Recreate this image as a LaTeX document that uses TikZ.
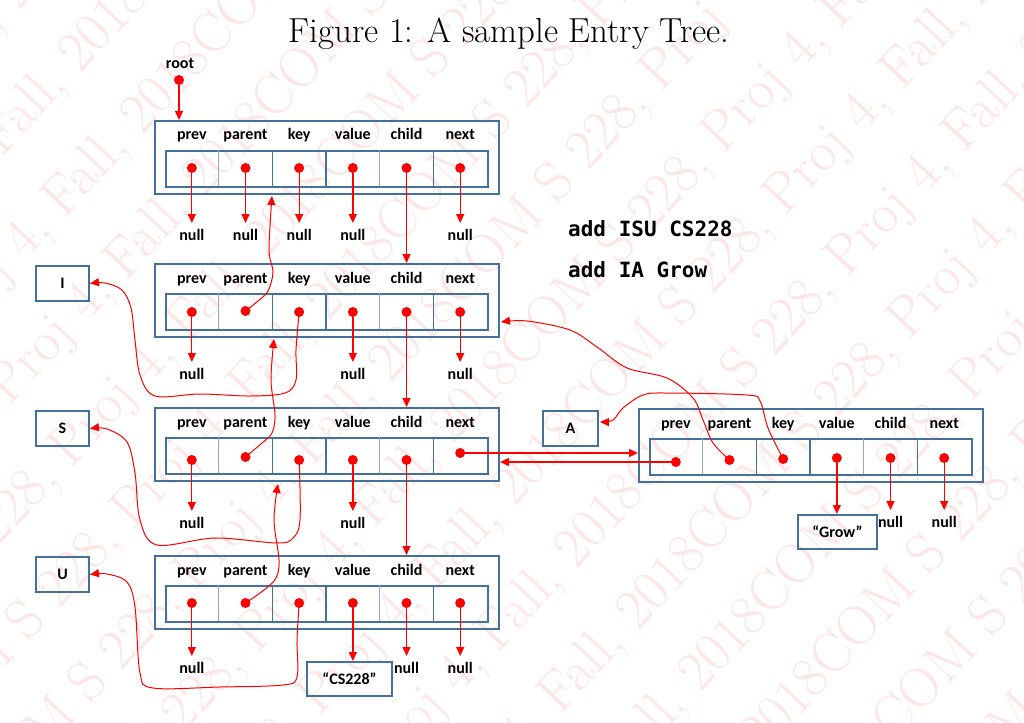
\documentclass[tikz,border=0pt]{standalone}
\usepackage{fontspec}
\newfontfamily\calfont{Carlito}
\newfontfamily\cmdfont{DejaVu Sans Mono}
\usetikzlibrary{arrows.meta}
\definecolor{boxblue}{RGB}{65,113,156}
\definecolor{divlight}{RGB}{140,170,205}
\definecolor{wmred}{RGB}{253,230,230}
\tikzset{
 lab/.style={font=\calfont\bfseries\fontsize{16}{18}\selectfont, inner sep=0pt},
 nul/.style={lab, anchor=north, inner ysep=6pt, inner xsep=1pt},
 outer/.style={draw=boxblue, line width=2pt, minimum width=344pt, minimum height=73pt, inner sep=0pt},
 rowbox/.style={draw=boxblue, line width=2pt, minimum width=322pt, minimum height=36pt, inner sep=0pt},
 sbox/.style={lab, draw=boxblue, line width=2pt, minimum height=35pt},
 dot/.style={circle, fill=red, inner sep=0pt, minimum size=10pt},
 ptr/.style={red, line width=1.3pt, -{Triangle[length=9pt,width=8pt]}},
 curve/.style={red, line width=1pt, -{Triangle[length=9pt,width=8pt]}},
 cmd/.style={font=\cmdfont\bfseries\fontsize{21}{23}\selectfont, anchor=west, inner sep=0pt},
 wm/.style={font=\fontsize{56}{60}\selectfont, text=wmred, inner sep=0pt},
}
\def\wmtext{COM S 228, Proj 4, Fall, 2018}
% entry: name, x0, top, dot offsets
\newcommand\entrybox[4]{%
 \node[outer, anchor=north west] (#1) at (#2,#3) {};
 \node[rowbox, anchor=north west] (#1row) at (#2+11,#3+30) {};
 \foreach \j/\c in {1/divlight,2/boxblue,3/boxblue,4/divlight,5/boxblue}
   \draw[\c, line width=1.6pt] ({#2+11+\j*53.67},#3+30) -- ({#2+11+\j*53.67},#3+66);
 \foreach \t [count=\i] in {prev,parent,key,value,child,next}
   \node[lab, anchor=base] (#1l\i) at ({#2+11+(\i-0.5)*53.67},#3+20) {\t};
 \foreach \o [count=\i] in {#4}
   \node[dot] (#1d\i) at ({#2+11+(\i-0.5)*53.67},#3+\o) {};
}
\begin{document}
\begin{tikzpicture}[x=1pt,y=-1pt]
\useasboundingbox (0,0) rectangle (1024,722);
\fill[white] (0,0) rectangle (1024,722);
\begin{scope}
\clip (0,0) rectangle (1024,722);
\foreach \k in {-10,...,10}
  \node[wm, rotate=47] (wm\k) at ({512+62*\k},{361+62*\k}) {\wmtext\wmtext\wmtext\wmtext};
\end{scope}

% title
\node[font=\fontsize{34.8}{38}\selectfont, anchor=base, inner sep=0pt] (title) at (509,43) {Figure 1: A sample Entry Tree.};

% entries
\entrybox{e1}{154}{120}{48,48,48,48,48,48}
\entrybox{e2}{154}{263}{49,48,49,49,49,49}
\entrybox{e3}{154}{407}{53,50,53,53,53,46}
\entrybox{e4}{154}{555}{48,48,48,48,48,48}
\entrybox{A}{638}{408}{54,52,51,50,50,50}

% side boxes
\node[sbox, minimum width=53pt] (Ibox) at (62.5,283.5) {I};
\node[sbox, minimum width=53pt] (Sbox) at (62.5,428.5) {S};
\node[sbox, minimum width=53pt] (Ubox) at (62.5,574.5) {U};
\node[sbox, minimum width=55pt] (Abox) at (570.5,428) {A};
\node[sbox, minimum width=85pt, minimum height=34pt] (cs) at (349.5,679) {“CS228”};
\node[sbox, minimum width=79pt, minimum height=34pt] (grow) at (837.5,532) {“Grow”};

% commands
\node[cmd] (c1) at (568,229) {add ISU CS228};
\node[cmd] (c2) at (568,270) {add IA Grow};

% root
\node[lab, anchor=base] (rootl) at (180,69) {root};
\node[dot] (rootd) at (179,80) {};
\draw[ptr] (rootd) -- (rootd |- e1.north);

% nulls
\foreach \i in {1,2,3,4,6} {
  \node[nul] (n1\i) at (e1d\i |- 0,223) {null};
  \draw[ptr] (e1d\i) -- (n1\i.north);
}
\foreach \i in {1,4,6} {
  \node[nul] (n2\i) at (e2d\i |- 0,362) {null};
  \draw[ptr] (e2d\i) -- (n2\i.north);
}
\foreach \i in {1,4} {
  \node[nul] (n3\i) at (e3d\i |- 0,511) {null};
  \draw[ptr] (e3d\i) -- (n3\i.north);
}
\foreach \i in {1,5,6} {
  \node[nul] (n4\i) at (e4d\i |- 0,656) {null};
  \draw[ptr] (e4d\i) -- (n4\i.north);
}
\foreach \i in {5,6} {
  \node[nul] (nA\i) at (Ad\i |- 0,510) {null};
  \draw[ptr] (Ad\i) -- (nA\i.north);
}
\draw[ptr] (e4d4) -- (e4d4 |- cs.north);
\draw[ptr] (Ad4) -- (Ad4 |- grow.north);

% child links
\draw[ptr] (e1d5) -- (e1d5 |- e2.north);
\draw[ptr] (e2d5) -- (e2d5 |- e3.north);
\draw[ptr] (e3d5) -- (e3d5 |- e4.north);

% sibling links
\draw[ptr] (e3d6) -- (e3d6 -| A.west);
\draw[ptr] (Ad1) -- (Ad1 -| e3.east);

% targets
\coordinate (e1in) at (272,196);
\coordinate (e2in) at (274,339);
\coordinate (e3in) at (278,484);
\coordinate (e2side) at (501,322);
\coordinate (Ain) at (600,422);

% parent curves
\draw[curve] plot[smooth, tension=0.55] coordinates {(e2d2) (258,301) (268,291) (273,272) (269,250) (e1in)};
\draw[curve] plot[smooth, tension=0.55] coordinates {(e3d2) (262,443) (272,433) (275,415) (271,380) (e2in)};
\draw[curve] plot[smooth, tension=0.55] coordinates {(e4d2) (264,590) (276,578) (279,560) (274,520) (e3in)};
\draw[curve] plot[smooth, tension=0.55] coordinates {(Ad2) (713,443) (703,420) (693,398) (667,378) (627,368) (597,347) (570,330) (527,321) (e2side)};

% key curves
\draw[curve] plot[smooth, tension=0.55] coordinates {(e2d3) (296,350) (296,380) (285,393) (250,396) (200,394) (155,396) (140,375) (135,340) (131,308) (122,290) (105,283) (Ibox.east)};
\draw[curve] plot[smooth, tension=0.55] coordinates {(e3d3) (300,520) (293,538) (277,543) (215,538) (157,545) (140,520) (135,473) (127,442) (107,429) (Sbox.east)};
\draw[curve] plot[smooth, tension=0.55] coordinates {(e4d3) (297,640) (297,677) (283,685) (220,687) (153,688) (140,673) (135,607) (127,582) (107,574) (Ubox.east)};
\draw[curve] plot[smooth, tension=0.55] coordinates {(Ad3) (768,428) (760,401) (747,395) (667,393) (643,395) (623,408) (613,420) (Ain)};
\end{tikzpicture}
\end{document}
